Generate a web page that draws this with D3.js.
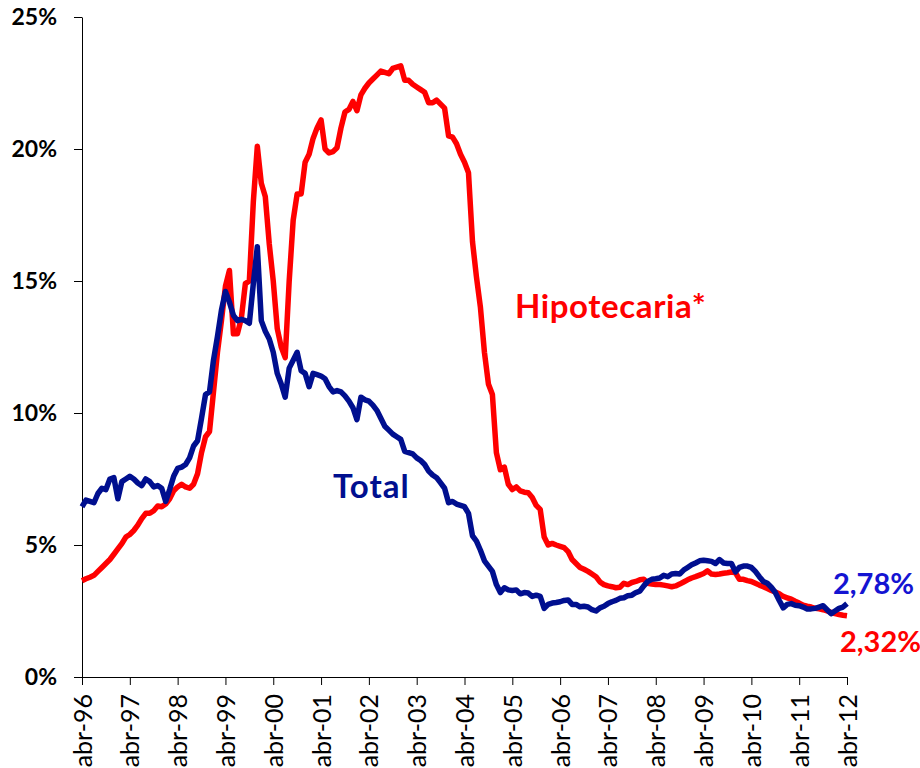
<!DOCTYPE html>
<html>
<head>
<meta charset="utf-8">
<script src="https://cdn.jsdelivr.net/npm/d3@7"></script>
<style>
  body { margin: 0; background: #fff; }
  .axis path, .axis line { stroke: #000; stroke-width: 1; }
  .x-axis text { font-family: Lato, "Open Sans", sans-serif; font-size: 25px; fill: #000; }
  .y-axis text { font-family: Lato, "Open Sans", sans-serif; font-size: 23px; font-weight: bold; fill: #000; }
  .lbl { font-family: Lato, "Open Sans", sans-serif; font-weight: bold; }
</style>
</head>
<body>
<div id="chart"></div>
<script>
// svg area size
var svgWidth = 920;
var svgHeight = 768;

var margin = { top: 17, right: 72, bottom: 91, left: 82 };
var width = svgWidth - margin.left - margin.right;
var height = svgHeight - margin.top - margin.bottom;

// x tick labels, one per april
var xLabels = ["abr-96", "abr-97", "abr-98", "abr-99", "abr-00", "abr-01", "abr-02", "abr-03",
  "abr-04", "abr-05", "abr-06", "abr-07", "abr-08", "abr-09", "abr-10", "abr-11", "abr-12"];

var yTicks = [0, 5, 10, 15, 20, 25];

// monthly rates (%), abr-96 .. abr-12, one row per year (abr..mar)
var total = [
  6.45, 6.7, 6.65, 6.6, 6.95, 7.15, 7.1, 7.5, 7.55, 6.75, 7.4, 7.5,
  7.6, 7.5, 7.35, 7.25, 7.5, 7.4, 7.2, 7.25, 7.15, 6.65, 7.1, 7.6,
  7.9, 7.95, 8.05, 8.3, 8.75, 8.95, 9.8, 10.7, 10.8, 12.0, 12.9, 13.9,
  14.6, 14.2, 13.7, 13.5, 13.55, 13.5, 13.4, 14.9, 16.3, 13.5, 13.1, 12.8,
  12.3, 11.5, 11.1, 10.6, 11.7, 12.0, 12.3, 11.6, 11.5, 11.0, 11.5, 11.45,
  11.4, 11.3, 11.0, 10.8, 10.85, 10.8, 10.65, 10.45, 10.2, 9.75, 10.6, 10.5,
  10.45, 10.3, 10.1, 9.8, 9.5, 9.35, 9.2, 9.1, 9.0, 8.55, 8.5, 8.45,
  8.3, 8.2, 8.05, 7.8, 7.65, 7.55, 7.35, 7.15, 6.6, 6.65, 6.55, 6.5,
  6.45, 6.2, 5.35, 5.15, 4.8, 4.4, 4.2, 4.0, 3.5, 3.2, 3.38, 3.3,
  3.28, 3.3, 3.15, 3.2, 3.18, 3.05, 3.1, 3.05, 2.6, 2.75, 2.8, 2.82,
  2.85, 2.9, 2.92, 2.75, 2.75, 2.66, 2.68, 2.65, 2.55, 2.5, 2.62, 2.68,
  2.78, 2.85, 2.9, 2.98, 3.0, 3.08, 3.1, 3.2, 3.25, 3.45, 3.62, 3.7,
  3.72, 3.75, 3.85, 3.8, 3.9, 3.92, 3.9, 4.05, 4.15, 4.25, 4.32, 4.4,
  4.42, 4.4, 4.38, 4.3, 4.45, 4.32, 4.3, 4.3, 3.98, 4.15, 4.2, 4.2,
  4.15, 4.0, 3.8, 3.62, 3.55, 3.4, 3.2, 2.9, 2.62, 2.75, 2.78, 2.72,
  2.7, 2.65, 2.58, 2.58, 2.6, 2.65, 2.7, 2.55, 2.4, 2.5, 2.6, 2.65,
  2.78
];

var hipotecaria = [
  3.65, 3.72, 3.78, 3.85, 4.0, 4.15, 4.3, 4.45, 4.65, 4.85, 5.05, 5.3,
  5.4, 5.55, 5.75, 6.0, 6.2, 6.2, 6.3, 6.48, 6.45, 6.55, 6.75, 7.05,
  7.2, 7.3, 7.2, 7.15, 7.3, 7.7, 8.5, 9.1, 9.3, 10.8, 12.3, 13.5,
  14.8, 15.4, 13.0, 13.0, 13.6, 14.9, 15.0, 18.0, 20.1, 18.7, 18.2, 16.4,
  15.0, 13.2, 12.5, 12.1, 15.0, 17.3, 18.3, 18.3, 19.5, 19.8, 20.4, 20.8,
  21.1, 20.0, 19.85, 19.9, 20.05, 20.8, 21.4, 21.5, 21.8, 21.45, 22.05, 22.3,
  22.5, 22.65, 22.8, 22.95, 22.9, 22.85, 23.05, 23.1, 23.15, 22.6, 22.6, 22.45,
  22.35, 22.25, 22.15, 21.75, 21.75, 21.85, 21.7, 21.55, 20.5, 20.45, 20.2, 19.8,
  19.5, 19.1, 16.5, 15.15, 14.0, 12.3, 11.1, 10.7, 8.5, 7.85, 7.95, 7.3,
  7.1, 7.2, 7.05, 7.0, 6.98, 6.8, 6.5, 6.35, 5.3, 5.0, 5.06, 5.0,
  4.95, 4.9, 4.75, 4.45, 4.3, 4.15, 4.08, 4.0, 3.9, 3.8, 3.6, 3.5,
  3.45, 3.42, 3.38, 3.4, 3.55, 3.5, 3.58, 3.62, 3.68, 3.7, 3.55, 3.52,
  3.5, 3.5, 3.48, 3.45, 3.42, 3.45, 3.52, 3.6, 3.68, 3.75, 3.8, 3.86,
  3.92, 4.02, 3.9, 3.88, 3.9, 3.93, 3.95, 3.98, 3.95, 3.7, 3.7, 3.65,
  3.62, 3.55, 3.48, 3.42, 3.35, 3.28, 3.22, 3.15, 3.05, 3.0, 2.95, 2.87,
  2.8, 2.72, 2.68, 2.65, 2.6, 2.58, 2.55, 2.5, 2.45, 2.4, 2.37, 2.34,
  2.32
];

var navy = "#000f8f";
var red = "#ff0000";

var svg = d3.select("#chart")
  .append("svg")
  .attr("width", svgWidth)
  .attr("height", svgHeight);

var chartGroup = svg.append("g")
  .attr("transform", `translate(${margin.left}, ${margin.top})`);

// scales
var xScale = d3.scaleLinear()
  .domain([0, 192])
  .range([0, width - 1]);

var yScale = d3.scaleLinear()
  .domain([0, 25])
  .range([height, 0]);

// axes
var bottomAxis = d3.axisBottom(xScale)
  .tickValues(d3.range(0, 193, 12))
  .tickFormat((d, i) => xLabels[i])
  .tickSizeInner(8)
  .tickSizeOuter(0);

var leftAxis = d3.axisLeft(yScale)
  .tickValues(yTicks)
  .tickFormat(d => d + "%")
  .tickSizeInner(8)
  .tickSizeOuter(0);

var xAxis = chartGroup.append("g")
  .attr("class", "axis x-axis")
  .attr("transform", `translate(0, ${height})`)
  .call(bottomAxis);

// rotated month labels
xAxis.selectAll("text")
  .attr("transform", "rotate(-90)")
  .attr("text-anchor", "end")
  .attr("x", -17)
  .attr("y", 0)
  .attr("dy", "0.36em");

var yAxis = chartGroup.append("g")
  .attr("class", "axis y-axis")
  .call(leftAxis);

yAxis.selectAll("text")
  .attr("x", -25);

// lines
var line = d3.line()
  .x((d, i) => xScale(i))
  .y(d => yScale(d));

chartGroup.append("path")
  .datum(hipotecaria)
  .attr("fill", "none")
  .attr("stroke", red)
  .attr("stroke-width", 5.5)
  .attr("stroke-linejoin", "round")
  .attr("d", line);

chartGroup.append("path")
  .datum(total)
  .attr("fill", "none")
  .attr("stroke", navy)
  .attr("stroke-width", 5.5)
  .attr("stroke-linejoin", "round")
  .attr("d", line);

// series labels
svg.append("text")
  .attr("class", "lbl")
  .attr("x", 333)
  .attr("y", 498)
  .attr("font-size", 33)
  .attr("letter-spacing", 1)
  .attr("fill", navy)
  .text("Total");

svg.append("text")
  .attr("class", "lbl")
  .attr("x", 515)
  .attr("y", 318)
  .attr("font-size", 33)
  .attr("letter-spacing", 0.6)
  .attr("fill", red)
  .text("Hipotecaria*");

svg.append("text")
  .attr("class", "lbl")
  .attr("x", 833)
  .attr("y", 594)
  .attr("font-size", 29)
  .attr("fill", "#1414d2")
  .text("2,78%");

svg.append("text")
  .attr("class", "lbl")
  .attr("x", 840)
  .attr("y", 652)
  .attr("font-size", 29)
  .attr("fill", red)
  .text("2,32%");
</script>
</body>
</html>
